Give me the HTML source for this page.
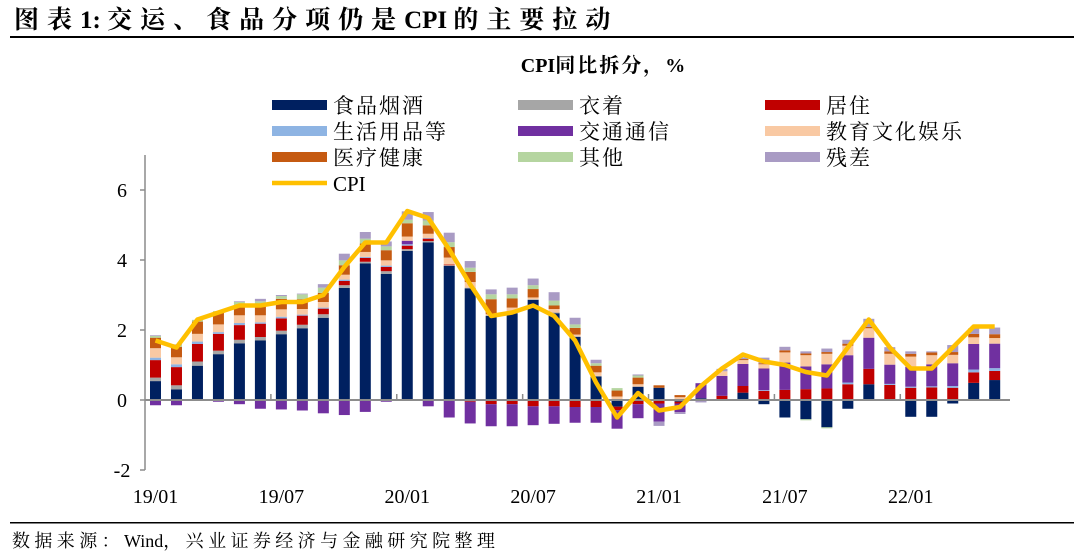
<!DOCTYPE html>
<html><head><meta charset="utf-8">
<style>
body{margin:0;background:#fff;width:1080px;height:553px;overflow:hidden;font-family:"Liberation Serif","Noto Serif CJK SC",serif;}
.w{letter-spacing:8px}
.s{letter-spacing:4.4px}
.t{letter-spacing:2px}
</style></head>
<body>
<svg id="c" width="1080" height="553" xmlns="http://www.w3.org/2000/svg">
<text x="14" y="28" font-size="25" font-weight="bold" font-family="Liberation Serif, Noto Serif CJK SC, serif"><tspan class="w">图表</tspan>1:  <tspan class="w">交运、食品分项仍是</tspan>CPI <tspan class="w">的主要拉动</tspan></text>
<rect x="10" y="36" width="1064" height="2" fill="#000"/>
<text x="603" y="72" font-size="20" font-weight="bold" text-anchor="middle">CPI<tspan class="t">同比拆分，</tspan>%</text>
<rect x="10" y="522" width="1064" height="1.5" fill="#000"/>
<text x="12" y="547" font-size="18"><tspan class="s">数据来源：</tspan>Wind<tspan class="s">，兴业证券经济与金融研究院整理</tspan></text>
<g id="plot"></g>
<g id="legend"></g>
</svg>
<script>
const months=["19/01","","","","","","19/07","","","","","","20/01","","","","","","20/07","","","","","","21/01","","","","","","21/07","","","","","","22/01","","","",""];
const seriesNames=["食品烟酒","衣着","居住","生活用品等","交通通信","教育文化娱乐","医疗健康","其他","残差"];
const seriesColors=["#002060","#a6a6a6","#c00000","#8eb4e3","#7030a0","#f9c9a3","#c55a11","#b5d5a0","#a99bc4"];
const food=[0.54,0.3,0.98,1.31,1.62,1.7,1.88,2.05,2.35,3.2,3.9,3.6,4.26,4.5,3.83,3.19,2.4,2.48,2.86,2.48,1.8,0.67,-0.19,0.38,0.35,-0.05,0.05,0,0.21,-0.12,-0.5,-0.55,-0.78,-0.25,0.45,0,-0.48,-0.48,-0.1,0.49,0.57];
const clothing=[0.1,0.12,0.12,0.1,0.1,0.1,0.1,0.1,0.1,0.08,0.05,0.08,0.05,0.04,0.02,0.02,0.02,0.02,0.02,0.02,0.02,0.02,0,0,0,0,0,0,0,0,0,0,0,0,0,0,0,0,0,0,0];
const housing=[0.5,0.52,0.5,0.48,0.42,0.38,0.35,0.26,0.16,0.12,0.11,0.12,0.1,0.07,0.02,-0.05,-0.12,-0.12,-0.18,-0.18,-0.2,-0.2,-0.1,-0.12,-0.1,-0.05,0,0.12,0.19,0.26,0.29,0.31,0.33,0.45,0.44,0.43,0.35,0.36,0.35,0.3,0.26];
const daily=[0.07,0.08,0.07,0.05,0.06,0.04,0.05,0.03,0.03,0.04,0.03,0.04,0.04,0.02,0,0,0,0,0,0,0,0,0,0,0,0,0,0,0,0.02,0,0,0,0.05,0,0.03,0.03,0.03,0.05,0.08,0.08];
const transport=[-0.15,-0.15,0,-0.05,-0.12,-0.25,-0.27,-0.3,-0.38,-0.43,-0.34,-0.05,0.1,-0.18,-0.5,-0.62,-0.63,-0.63,-0.54,-0.5,-0.45,-0.45,-0.53,-0.4,-0.52,-0.25,0.43,0.57,0.63,0.62,0.78,0.65,0.69,0.78,0.89,0.55,0.57,0.63,0.65,0.73,0.7];
const education=[0.27,0.2,0.22,0.22,0.22,0.2,0.21,0.16,0.16,0.14,0.14,0.15,0.12,0.12,0.2,0.16,0.03,0.14,0.05,0.1,0.05,0.1,0.1,0.07,0,0.08,0,0.13,0.11,0.12,0.29,0.32,0.3,0.27,0.27,0.31,0.29,0.26,0.24,0.19,0.16];
const medical=[0.3,0.3,0.35,0.33,0.28,0.3,0.3,0.28,0.26,0.27,0.24,0.29,0.38,0.24,0.3,0.29,0.43,0.26,0.24,0.1,0.19,0.19,0.17,0.19,0.07,0.06,0,0,0.03,0.03,0.06,0.05,0.05,0.06,0.04,0.07,0.08,0.08,0.08,0.1,0.11];
const other=[0.05,0.05,0.05,0.05,0.1,0.1,0.08,0.14,0.15,0.14,0.14,0.11,0.1,0.14,0.14,0.12,0.14,0.12,0.11,0.14,0.1,0.07,0.07,0.06,0,0,0,0,0,0,0,-0.03,-0.03,0,0,0,0,0,0,0,0];
const residual=[0.02,0.02,0,0,0.02,0.07,0.03,0.02,0.1,0.19,0.19,0.14,0.24,0.24,0.27,0.19,0.14,0.19,0.19,0.24,0.19,0.1,0,0.03,-0.12,-0.05,-0.07,0.07,0.05,0.16,0.1,0.06,0.1,0.11,0.23,0.12,0.07,0.03,0.2,0.16,0.19];
const cpi=[1.7,1.5,2.3,2.5,2.7,2.7,2.8,2.8,3.0,3.8,4.5,4.5,5.4,5.2,4.3,3.3,2.4,2.5,2.7,2.4,1.7,0.5,-0.5,0.2,-0.3,-0.2,0.4,0.9,1.3,1.1,1.0,0.8,0.7,1.5,2.3,1.5,0.9,0.9,1.5,2.1,2.1];
const yTicks=[-2,0,2,4,6];

const NS="http://www.w3.org/2000/svg";
const plot=document.getElementById('plot');
const X0=155.5,DX=20.98,BW=11;
const xs=i=>X0+i*DX;
const ys=v=>400-v*35;
function mk(tag,attrs,parent){const e=document.createElementNS(NS,tag);for(const k in attrs)e.setAttribute(k,attrs[k]);parent.appendChild(e);return e;}
const series=[food,clothing,housing,daily,transport,education,medical,other,residual];
let ax=mk('line',{x1:145,y1:155,x2:145,y2:470,stroke:'#8c8c8c','stroke-width':1.5},plot);


yTicks.forEach(t=>{
  let tk=mk('line',{x1:140,x2:145,y1:ys(t),y2:ys(t),stroke:'#8c8c8c','stroke-width':1.5},plot);
  
  
  let tx=mk('text',{x:122,y:ys(t)+7,'font-size':20,'text-anchor':'middle'},plot);
  tx.textContent=t;
  
  
});
months.forEach((m,i)=>{
  let pos=0,neg=0;
  series.forEach((s,k)=>{
    const v=s[i];if(!v)return;
    let y0,y1;
    if(v>0){y0=pos;y1=pos+v;pos=y1;}else{y0=neg;y1=neg+v;neg=y1;}
    const r=mk('rect',{x:xs(i)-BW/2,width:BW,y:Math.min(ys(y0),ys(y1)),height:Math.abs(ys(y1)-ys(y0)),fill:seriesColors[k]},plot);
    
    
  });
});
let xa=mk('line',{x1:145,y1:400,x2:1010,y2:400,stroke:'#8c8c8c','stroke-width':2},plot);


months.forEach((m,i)=>{
  if(i%6===0&&i>0){
    let tk=mk('line',{x1:xs(i)-DX/2,x2:xs(i)-DX/2,y1:394,y2:400,stroke:'#8c8c8c','stroke-width':1.5},plot);
    
    
  }
  if(m){
    let tx=mk('text',{x:xs(i),y:503,'font-size':20,'text-anchor':'middle'},plot);
    tx.textContent=m;
    
    
  }
});
let pl=mk('polyline',{points:cpi.map((v,i)=>xs(i)+','+ys(v)).join(' '),fill:'none',stroke:'#ffc000','stroke-width':4.5,'stroke-linejoin':'round'},plot);


const leg=document.getElementById('legend');
const names=seriesNames.concat(["CPI"]);
names.forEach((n,k)=>{
  const col=k%3,row=Math.floor(k/3);
  const lx=[272,518,765][col],ly=105+row*26;
  let sw;
  if(k<9){sw=mk('rect',{x:lx,y:ly-5,width:55,height:10,fill:seriesColors[k]},leg);}
  else{sw=mk('line',{x1:lx,x2:lx+55,y1:ly,y2:ly,stroke:'#ffc000','stroke-width':4.5},leg);}
  
  
  let t=mk('text',{x:lx+61,y:ly+8,'font-size':21,'letter-spacing':k<9?2:0},leg);
  t.textContent=n;
  
  
});
</script>
</body></html>
